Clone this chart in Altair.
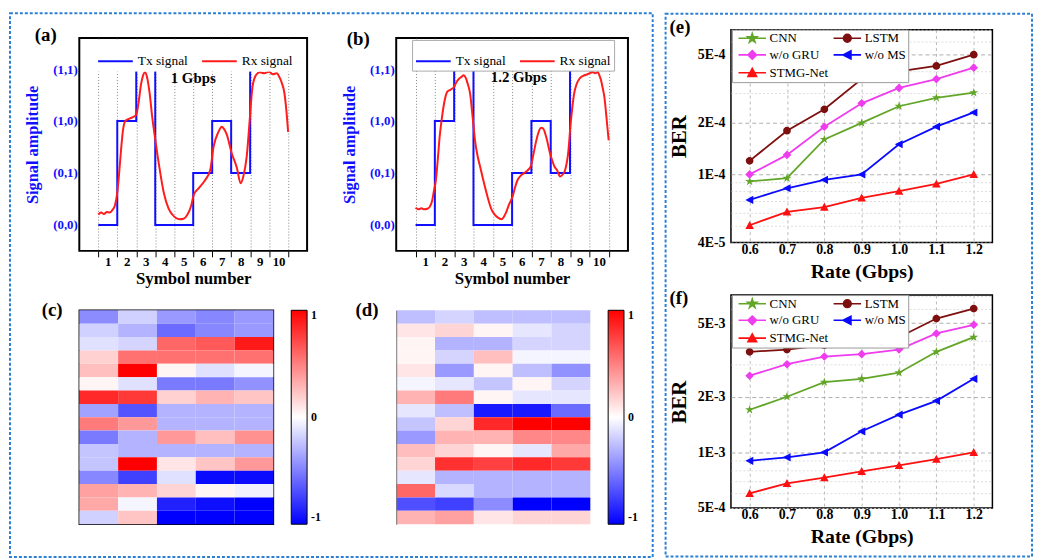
import altair as alt
import pandas as pd

SERIF = "Liberation Serif"
TX_BLUE = "#1010ff"
RX_RED = "#ff1c1c"
BORDER = "#2a7fd4"

# ---------------- (a), (b) signal panels ----------------
tx_symbol = [0, 1, 2, 3, 4, 5, 6, 7, 8, 9, 10]
tx_level = [0, 2, 3, 0, 0, 1, 2, 1, 3, 3, 3]
level_names = ["(0,0)", "(0,1)", "(1,0)", "(1,1)"]
symbol_labels = ["1", "2", "3", "4", "5", "6", "7", "8", "9", "10", ""]

rx_a_x = [0.0, 0.15, 0.3, 0.45, 0.6, 0.75, 0.88, 1.0, 1.1, 1.2, 1.3, 1.42, 1.6, 1.8, 2.0,
          2.12, 2.25, 2.38, 2.46, 2.56, 2.7, 2.84, 3.0, 3.2, 3.45, 3.7, 3.9, 4.1, 4.3, 4.5,
          4.7, 4.9, 5.03, 5.3, 5.64, 5.9, 6.07, 6.33, 6.5, 6.62, 6.77, 7.03, 7.3, 7.5, 7.64,
          7.82, 7.99, 8.12, 8.3, 8.5, 8.75, 9.0, 9.2, 9.4, 9.55, 9.68, 9.8, 9.91, 10.0]
rx_a_y = [0.20, 0.24, 0.21, 0.25, 0.24, 0.29, 0.38, 0.62, 1.0, 1.45, 1.82, 2.0, 2.04, 2.07, 2.12,
          2.35, 2.7, 2.9, 2.94, 2.86, 2.55, 2.08, 1.65, 1.15, 0.62, 0.32, 0.2, 0.13, 0.11, 0.12,
          0.2, 0.38, 0.58, 0.71, 0.87, 1.06, 1.5, 1.79, 1.89, 1.85, 1.74, 1.38, 1.1, 0.8, 0.93,
          1.32, 2.08, 2.65, 2.88, 2.94, 2.92, 2.95, 2.9, 2.92, 2.84, 2.72, 2.55, 2.2, 1.79]

rx_b_x = [0.0, 0.15, 0.3, 0.45, 0.6, 0.72, 0.85, 0.95, 1.05, 1.15, 1.25, 1.38, 1.5, 1.64, 1.8,
          1.98, 2.12, 2.24, 2.38, 2.49, 2.6, 2.7, 2.83, 2.95, 3.08, 3.2, 3.34, 3.59, 3.76, 3.93,
          4.1, 4.27, 4.44, 4.55, 4.69, 4.85, 5.03, 5.15, 5.29, 5.45, 5.63, 5.8, 5.97, 6.1, 6.22,
          6.35, 6.5, 6.6, 6.81, 6.95, 7.07, 7.2, 7.32, 7.49, 7.62, 7.75, 7.92, 8.02, 8.1, 8.2,
          8.34, 8.5, 8.68, 8.9, 9.19, 9.3, 9.44, 9.52, 9.61, 9.7, 9.78, 9.88, 10.0]
rx_b_y = [0.33, 0.30, 0.32, 0.30, 0.31, 0.34, 0.45, 0.65, 0.85, 1.25, 1.7, 2.1, 2.38, 2.56, 2.6,
          2.65, 2.75, 2.81, 2.85, 2.88, 2.83, 2.72, 2.52, 2.1, 1.63, 1.35, 1.13, 0.74, 0.5, 0.3,
          0.2, 0.14, 0.11, 0.14, 0.24, 0.4, 0.55, 0.72, 0.87, 0.95, 1.0, 1.05, 1.13, 1.35, 1.57,
          1.76, 1.87, 1.86, 1.63, 1.4, 1.25, 1.12, 1.06, 0.93, 0.97, 1.06, 1.44, 1.9, 2.2, 2.5,
          2.71, 2.82, 2.87, 2.9, 2.94, 2.92, 2.94, 2.88, 2.78, 2.62, 2.46, 2.1, 1.63]

note_a_text = ["1 Gbps"]
note_a_x = [5.0]
note_a_y = [2.82]
note_b_text = ["1.2 Gbps"]
note_b_x = [5.35]
note_b_y = [2.84]

# ---------------- (c), (d) heatmaps ----------------
heat_c = [
    [-0.45, -0.18, -0.40, -0.47, -0.40],
    [-0.18, -0.30, -0.58, -0.47, -0.40],
    [-0.12, -0.17, 0.60, 0.65, 0.90],
    [0.18, 0.56, 0.56, 0.56, 0.56],
    [0.25, 1.00, 0.04, -0.12, -0.04],
    [0.04, -0.12, -0.52, -0.52, -0.43],
    [0.84, 0.78, 0.18, 0.30, 0.23],
    [-0.37, -0.67, -0.30, -0.30, -0.30],
    [0.52, 0.40, -0.30, -0.30, -0.30],
    [-0.52, -0.30, 0.40, 0.25, 0.43],
    [-0.23, -0.30, -0.30, -0.30, -0.30],
    [-0.23, 1.00, 0.10, 0.23, 0.40],
    [-0.47, -0.75, -0.12, -0.96, -0.96],
    [0.37, 0.30, 0.17, 0.04, -0.06],
    [0.34, -0.04, -0.87, -0.94, -1.00],
    [-0.18, 0.23, -1.00, -1.00, -1.00],
]
heat_d = [
    [-0.25, -0.17, -0.25, -0.25, -0.25],
    [0.10, 0.17, 0.04, -0.10, -0.17],
    [0.04, -0.30, -0.30, -0.17, -0.17],
    [0.04, -0.17, 0.25, -0.04, -0.04],
    [0.10, -0.40, 0.04, -0.25, -0.43],
    [-0.04, -0.10, -0.23, 0.04, -0.17],
    [0.30, 0.52, 0.04, -0.10, -0.10],
    [-0.10, -0.25, -0.90, -0.90, -0.58],
    [-0.23, 0.17, 0.84, 1.00, 1.00],
    [-0.40, 0.30, 0.30, 0.47, 0.47],
    [0.26, 0.17, 0.04, -0.10, 0.34],
    [0.17, 0.81, 0.75, 0.84, 0.78],
    [-0.10, -0.30, -0.30, -0.30, -0.30],
    [0.60, -0.15, -0.30, -0.30, -0.30],
    [-0.69, -0.75, -0.45, -1.00, -1.00],
    [0.30, 0.37, 0.10, 0.17, 0.17],
]
colorbar_ticks = [-1, 0, 1]
colorbar_labels = ["-1", "0", "1"]

# ---------------- (e), (f) BER panels ----------------
rates = [0.6, 0.7, 0.8, 0.9, 1.0, 1.1, 1.2]
models = ["CNN", "LSTM", "w/o GRU", "w/o MS", "STMG-Net"]
legend_order = ["CNN", "w/o GRU", "STMG-Net", "LSTM", "w/o MS"]
model_colors = {"CNN": "#62a628", "LSTM": "#7e0f0f", "w/o GRU": "#ee3cee",
                "w/o MS": "#0a0aff", "STMG-Net": "#ff1010"}
ber_e = {
    "CNN": [9.1e-5, 9.5e-5, 1.6e-4, 2.0e-4, 2.5e-4, 2.8e-4, 3.0e-4],
    "LSTM": [1.2e-4, 1.8e-4, 2.4e-4, 3.6e-4, 4.0e-4, 4.3e-4, 5.0e-4],
    "w/o GRU": [1.0e-4, 1.3e-4, 1.9e-4, 2.6e-4, 3.2e-4, 3.6e-4, 4.2e-4],
    "w/o MS": [7.1e-5, 8.3e-5, 9.3e-5, 1.0e-4, 1.5e-4, 1.9e-4, 2.3e-4],
    "STMG-Net": [5.05e-5, 6.05e-5, 6.45e-5, 7.3e-5, 8.0e-5, 8.8e-5, 1.0e-4],
}
ber_f = {
    "CNN": [1.7e-3, 2.0e-3, 2.4e-3, 2.5e-3, 2.7e-3, 3.5e-3, 4.2e-3],
    "LSTM": [3.5e-3, 3.6e-3, 3.8e-3, 3.85e-3, 4.2e-3, 5.3e-3, 6.0e-3],
    "w/o GRU": [2.6e-3, 3.0e-3, 3.3e-3, 3.4e-3, 3.6e-3, 4.4e-3, 4.9e-3],
    "w/o MS": [9.0e-4, 9.4e-4, 1.0e-3, 1.3e-3, 1.6e-3, 1.9e-3, 2.5e-3],
    "STMG-Net": [6.0e-4, 6.8e-4, 7.3e-4, 7.9e-4, 8.5e-4, 9.2e-4, 1.0e-3],
}
grid_e = [4e-5, 5e-5, 6e-5, 7e-5, 8e-5, 9e-5, 1e-4, 2e-4, 3e-4, 4e-4, 5e-4, 6e-4, 7e-4]
label_vals_e = [4e-5, 1e-4, 2e-4, 5e-4]
label_text_e = ["4E-5", "1E-4", "2E-4", "5E-4"]
grid_f = [5e-4, 6e-4, 7e-4, 8e-4, 9e-4, 1e-3, 2e-3, 3e-3, 4e-3, 5e-3, 6e-3, 7e-3]
label_vals_f = [5e-4, 1e-3, 2e-3, 5e-3]
label_text_f = ["5E-4", "1E-3", "2E-3", "5E-3"]

LINE = "M-3.2,0H3.2"
model_shapes = {
    "CNN": LINE + "M0,-1.1L0.25,-0.34L1.05,-0.34L0.4,0.13L0.65,0.9L0,0.42L-0.65,0.9L-0.4,0.13L-1.05,-0.34L-0.25,-0.34Z",
    "LSTM": LINE + "M0.9,0A0.9,0.9 0 1,1 -0.9,0A0.9,0.9 0 1,1 0.9,0Z",
    "w/o GRU": LINE + "M0,-1L1,0L0,1L-1,0Z",
    "w/o MS": LINE + "M-1,0L0.85,-0.95L0.85,0.95Z",
    "STMG-Net": LINE + "M0,-1L1,0.85L-1,0.85Z",
}


def border_layer(x1, x2, y1, y2):
    return alt.Chart(alt.Data(values=[{"frame": 1}])).mark_rect(
        fillOpacity=0, stroke=BORDER, strokeWidth=2, strokeDash=[3, 2]
    ).encode(x=alt.value(x1), x2=alt.value(x2), y=alt.value(y1), y2=alt.value(y2))


def spacer_layer(y1, y2):
    # invisible guide used only to balance the vertical centring of the two groups
    return alt.Chart(alt.Data(values=[{"frame": 1}])).mark_rule(
        strokeOpacity=0, strokeWidth=1
    ).encode(x=alt.value(0), y=alt.value(y1), y2=alt.value(y2))


def tag_layer(text, dx, base_y):
    return alt.Chart(alt.Data(values=[{"tag": text}])).mark_text(
        align="left", baseline="alphabetic", font=SERIF, fontWeight="bold", fontSize=19,
        color="black"
    ).encode(x=alt.value(dx), y=alt.value(base_y), text="tag:N")


def signal_panel(rx_x, rx_y, nt_text, nt_x, nt_y, width, tag, tag_dx, tag_y,
                 legend_x, legend_border, border=None):
    half = width / 12.0 / 2.0
    tx = pd.DataFrame({"sym": tx_symbol, "lvl": tx_level, "sig": ["Tx signal"] * len(tx_symbol)})
    rx = pd.DataFrame({"sym": rx_x, "lvl": rx_y, "sig": ["Rx signal"] * len(rx_x)})
    nt = pd.DataFrame({"sym": nt_x, "lvl": nt_y, "txt": nt_text})
    xsc = alt.Scale(domain=[-1, 11], nice=False, zero=False)
    ysc = alt.Scale(domain=[-0.5, 3.6], nice=False, zero=False)
    sym_expr = "[" + ",".join("'%s'" % s for s in symbol_labels) + "][datum.value]"
    lvl_expr = "[" + ",".join("'%s'" % s for s in level_names) + "][datum.value]"
    xax = alt.Axis(values=tx_symbol, labelExpr=sym_expr, labelOffset=half, grid=True,
                   gridDash=[1, 2], gridColor="#666", gridWidth=0.8, ticks=True, tickSize=6,
                   tickColor="black", tickWidth=1, domain=False, labelFontSize=13,
                   labelPadding=-1, labelOverlap=False, labelFlush=False,
                   title="Symbol number", titleFontSize=17, titlePadding=2)
    yax = alt.Axis(values=[0, 1, 2, 3], labelExpr=lvl_expr, labelColor=TX_BLUE, labelFontSize=13,
                   labelPadding=2, ticks=False, grid=False, domain=False,
                   title="Signal amplitude", titleColor=TX_BLUE, titleFontSize=16.5,
                   titlePadding=12)
    sscale = alt.Scale(domain=["Tx signal", "Rx signal"], range=[TX_BLUE, RX_RED])
    leg = alt.Legend(orient="none", legendX=legend_x, legendY=2, direction="horizontal",
                     title=None, symbolType="stroke", symbolSize=1225, symbolStrokeWidth=2,
                     labelFontSize=13.5, labelFontWeight="normal", labelOffset=4,
                     columnPadding=10, padding=3, fillColor="white", strokeColor=legend_border)
    x = alt.X("sym:Q", scale=xsc, axis=xax)
    y = alt.Y("lvl:Q", scale=ysc, axis=yax)
    tx_line = alt.Chart(tx).mark_line(interpolate="step-after", strokeWidth=2).encode(
        x=x, y=y, stroke=alt.Stroke("sig:N", scale=sscale, legend=leg))
    rx_line = alt.Chart(rx).mark_line(interpolate="monotone", strokeWidth=2).encode(
        x=x, y=y, stroke=alt.Stroke("sig:N", scale=sscale, legend=leg))
    note = alt.Chart(nt).mark_text(font=SERIF, fontWeight="bold", fontSize=15,
                                   color="black").encode(x=x, y=y, text="txt:N")
    layers = [tx_line, rx_line, note, tag_layer(tag, tag_dx, tag_y)]
    if border is not None:
        layers = [border_layer(*border)] + layers
    return alt.layer(*layers).properties(
        width=width, height=215, view=alt.ViewBackground(stroke="black", strokeWidth=2))


def heat_panel(vals, tag, tag_dx, tag_y, framed):
    recs = []
    for r, row in enumerate(vals):
        for c, v in enumerate(row):
            recs.append({"row": r + 1, "col": c + 1, "v": v})
    df = pd.DataFrame(recs)
    cscale = alt.Scale(domain=[-1, 0, 1], range=["#0000ff", "#ffffff", "#ff0000"],
                       interpolate="rgb")
    cb_expr = "datum.value < 0 ? '%s' : datum.value > 0 ? '%s' : '%s'" % (
        colorbar_labels[0], colorbar_labels[2], colorbar_labels[1])
    leg = alt.Legend(title=None, orient="right", offset=18, values=colorbar_ticks,
                     gradientLength=216, gradientThickness=16, labelExpr=cb_expr,
                     labelFontSize=12, labelFontWeight="bold", labelOffset=4,
                     gradientStrokeColor="black", gradientStrokeWidth=1, direction="vertical")
    if framed:
        yax = None
        view = alt.ViewBackground(stroke="black", strokeWidth=1.5)
    else:
        yax = alt.Axis(labels=False, ticks=False, domain=True, domainColor="#777",
                       grid=False, title=None)
        view = alt.ViewBackground(stroke="transparent")
    cells = alt.Chart(df).mark_rect().encode(
        x=alt.X("col:O", axis=None, scale=alt.Scale(paddingInner=0, paddingOuter=0)),
        y=alt.Y("row:O", axis=yax, scale=alt.Scale(paddingInner=0, paddingOuter=0)),
        color=alt.Color("v:Q", scale=cscale, legend=leg),
    )
    return alt.layer(cells, tag_layer(tag, tag_dx, tag_y)).properties(
        width=196, height=216, view=view)


def ber_panel(ber, ydom, grid_vals, label_vals, label_text, tag, tag_y, border=None,
              spacer=None):
    recs = []
    for m in models:
        for r, b in zip(rates, ber[m]):
            recs.append({"rate": r, "ber": b, "model": m})
    df = pd.DataFrame(recs)
    xsc = alt.Scale(domain=[0.55, 1.25], nice=False, zero=False)
    ysc = alt.Scale(type="log", domain=ydom, nice=False)
    lab = ""
    for v, t in zip(label_vals, label_text):
        lab += "datum.value === %r ? '%s' : " % (v, t)
    lab += "''"
    major = " || ".join("datum.value === %r" % v for v in label_vals[1:])
    xax = alt.Axis(values=rates, format=".1f", grid=True, gridDash=[3, 3], gridColor="#aaa",
                   gridWidth=0.8, ticks=False, domain=False, labelFontSize=14, labelPadding=0,
                   labelFlush=False, title="Rate (Gbps)", titleFontSize=20, titlePadding=5)
    yax = alt.Axis(values=grid_vals, labelExpr=lab, grid=True,
                   gridColor={"condition": {"test": major, "value": "#999"}, "value": "#d4d4d4"},
                   gridDash={"condition": {"test": major, "value": [4, 3]}, "value": [2, 2]},
                   gridWidth=0.8, ticks=False, domain=False, labelFontSize=14, labelPadding=6,
                   labelFlush=False, labelOverlap=False, title="BER", titleFontSize=21,
                   titlePadding=8)
    leg = alt.Legend(orient="none", legendX=1, legendY=0, columns=2, title=None,
                     labelFontSize=13, labelFontWeight="normal", symbolSize=75,
                     symbolStrokeWidth=1.6, symbolOffset=12, labelOffset=11, columnPadding=-27,
                     rowPadding=1, padding=2, fillColor="white", strokeColor="#999")
    cs = alt.Scale(domain=legend_order, range=[model_colors[m] for m in legend_order])
    ss = alt.Scale(domain=legend_order, range=[model_shapes[m] for m in legend_order])
    x = alt.X("rate:Q", scale=xsc, axis=xax)
    y = alt.Y("ber:Q", scale=ysc, axis=yax)
    lines = alt.Chart(df).mark_line(strokeWidth=1.8).encode(
        x=x, y=y, stroke=alt.Stroke("model:N", scale=cs, legend=leg))
    pts = alt.Chart(df).mark_point(filled=True, size=75, opacity=1).encode(
        x=x, y=y, fill=alt.Fill("model:N", scale=cs, legend=leg),
        shape=alt.Shape("model:N", scale=ss, legend=leg))
    layers = [lines, pts, tag_layer(tag, -62, tag_y)]
    if border is not None:
        layers = [border_layer(*border)] + layers
    if spacer is not None:
        layers = layers + [spacer_layer(*spacer)]
    return alt.layer(*layers).properties(
        width=264, height=215, view=alt.ViewBackground(stroke="black", strokeWidth=1.5))


pa = signal_panel(rx_a_x, rx_a_y, note_a_text, note_a_x, note_a_y, 230, "(a)", -45, 3,
                  15, "white", border=(-70, 579, -25, 524))
pb = signal_panel(rx_b_x, rx_b_y, note_b_text, note_b_x, note_b_y, 234, "(b)", -50, 7.5,
                  16, "#aaa")
pc = heat_panel(heat_c, "(c)", -38, 6, True)
pd_ = heat_panel(heat_d, "(d)", -41, 6, False)
pe = ber_panel(ber_e, [4e-5, 7e-4], grid_e, label_vals_e, label_text_e, "(e)", 3,
               border=(-66, 304, -16, 532), spacer=(532, 542))
pf = ber_panel(ber_f, [5e-4, 7.1e-3], grid_f, label_vals_f, label_text_f, "(f)", 9)

IND = dict(x="independent", y="independent", color="independent", stroke="independent",
           fill="independent", shape="independent")

left = alt.concat(pa, pb, pc, pd_, columns=2, spacing=alt.RowColnumber(row=60, column=90),
                  bounds="flush").resolve_scale(**IND)
right = alt.vconcat(pe, pf, spacing=53, bounds="flush").resolve_scale(**IND)

chart = alt.hconcat(left, right, spacing=9, center=True).resolve_scale(**IND).properties(
    padding=0, background="white"
).configure_axis(
    labelFont=SERIF, titleFont=SERIF, labelFontWeight="bold", titleFontWeight="bold",
    labelColor="black", titleColor="black"
).configure_legend(
    labelFont=SERIF, labelColor="black"
).configure_text(font=SERIF)

chart.save("out.html", embed_options={"renderer": "svg", "actions": False})
